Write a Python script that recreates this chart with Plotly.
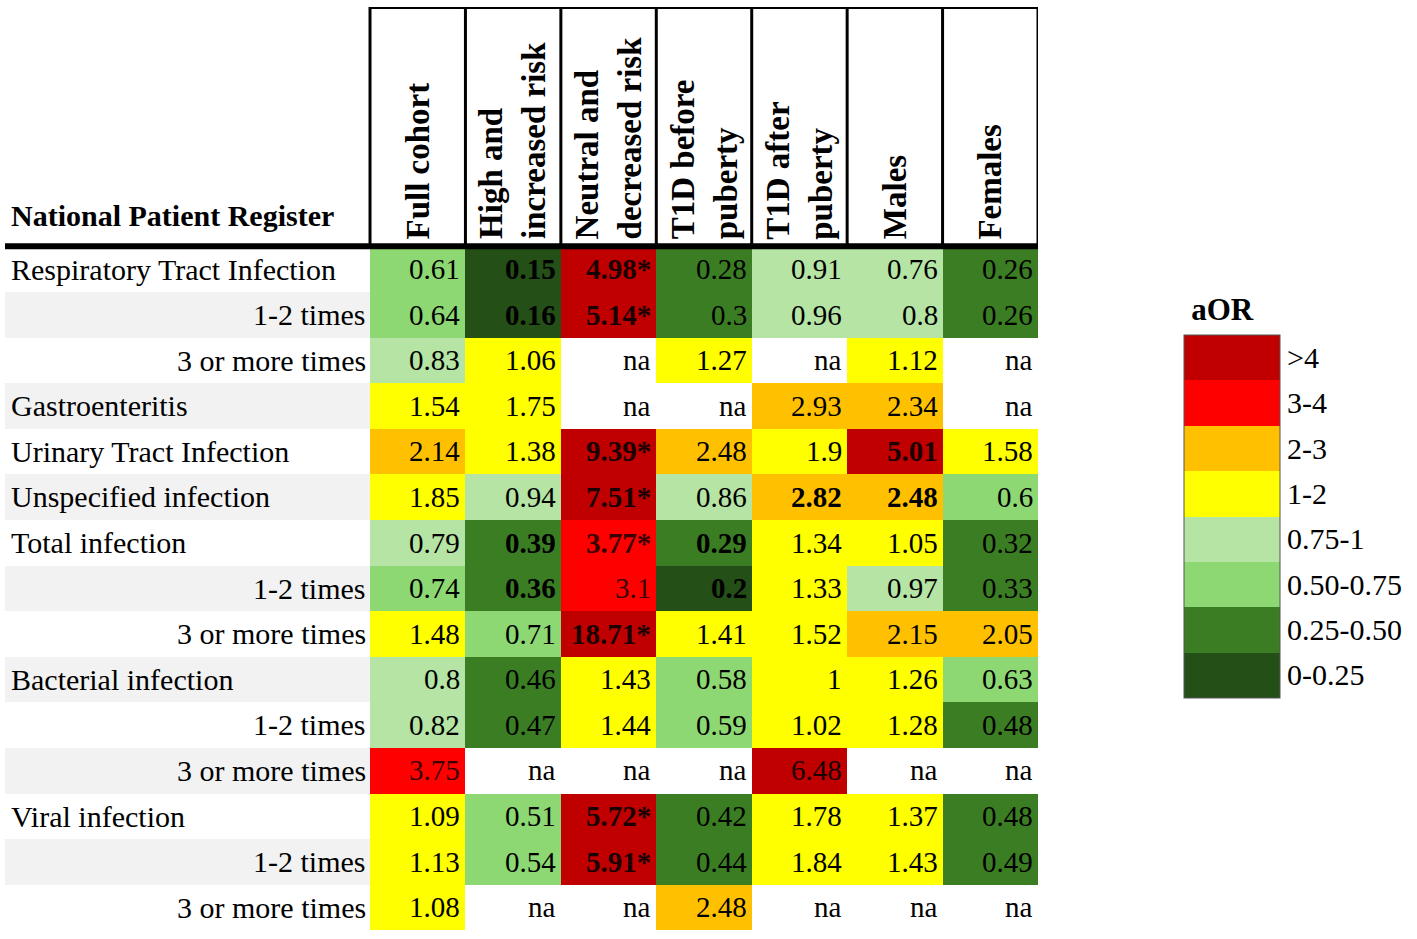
import numpy as np
import plotly.graph_objects as go

SERIF = "Liberation Serif"

columns = ["Full cohort", "High and<br>increased risk", "Neutral and<br>decreased risk",
           "T1D before<br>puberty", "T1D after<br>puberty", "Males", "Females"]
rows = ["Respiratory Tract Infection", "1-2 times", "3 or more times", "Gastroenteritis",
        "Urinary Tract Infection", "Unspecified infection", "Total infection", "1-2 times",
        "3 or more times", "Bacterial infection", "1-2 times", "3 or more times",
        "Viral infection", "1-2 times", "3 or more times"]
sub_rows = [1, 2, 7, 8, 10, 11, 13, 14]

# aOR values, None = na
values = [
    [0.61, 0.15, 4.98, 0.28, 0.91, 0.76, 0.26],
    [0.64, 0.16, 5.14, 0.3, 0.96, 0.8, 0.26],
    [0.83, 1.06, None, 1.27, None, 1.12, None],
    [1.54, 1.75, None, None, 2.93, 2.34, None],
    [2.14, 1.38, 9.39, 2.48, 1.9, 5.01, 1.58],
    [1.85, 0.94, 7.51, 0.86, 2.82, 2.48, 0.6],
    [0.79, 0.39, 3.77, 0.29, 1.34, 1.05, 0.32],
    [0.74, 0.36, 3.1, 0.2, 1.33, 0.97, 0.33],
    [1.48, 0.71, 18.71, 1.41, 1.52, 2.15, 2.05],
    [0.8, 0.46, 1.43, 0.58, 1, 1.26, 0.63],
    [0.82, 0.47, 1.44, 0.59, 1.02, 1.28, 0.48],
    [3.75, None, None, None, 6.48, None, None],
    [1.09, 0.51, 5.72, 0.42, 1.78, 1.37, 0.48],
    [1.13, 0.54, 5.91, 0.44, 1.84, 1.43, 0.49],
    [1.08, None, None, 2.48, None, None, None],
]
starred = [(0, 2), (1, 2), (4, 2), (5, 2), (6, 2), (8, 2), (12, 2), (13, 2)]
bold_cells = starred + [(0, 1), (1, 1), (6, 1), (7, 1), (6, 3), (7, 3), (5, 4), (4, 5), (5, 5)]

bin_edges = [0.25, 0.5, 0.75, 1, 2, 3, 4]
bin_labels = ["0-0.25", "0.25-0.50", "0.50-0.75", "0.75-1", "1-2", "2-3", "3-4", ">4"]
bin_colors = ["#244f17", "#3b7d23", "#8ed873", "#b5e4a4", "#ffff00", "#ffc000", "#ff0000", "#c00000"]
text_colors = ["black"] * 6 + ["#3a0000", "#1a0000"]

n_bins = len(bin_colors)
z = [[None if v is None else int(np.digitize(v, bin_edges)) for v in row] for row in values]
colorscale = []
for i, c in enumerate(bin_colors):
    colorscale += [[i / n_bins, c], [(i + 1) / n_bins, c]]

label_left = -4.325   # left edge of the label column, in column units
header_top = -5.75    # top of the header block, in row units
n_rows, n_cols = len(rows), len(columns)

fig = go.Figure()

# grey banding behind the row labels
fig.add_trace(go.Heatmap(
    x=[label_left, -0.5], y=list(range(n_rows)),
    z=[[i % 2] for i in range(n_rows)],
    colorscale=[[0, "white"], [1, "#f2f2f2"]], showscale=False, hoverinfo="skip"))

fig.add_trace(go.Heatmap(
    x=list(range(n_cols)), y=list(range(n_rows)), z=z,
    zmin=-0.5, zmax=n_bins - 0.5, colorscale=colorscale, hoverongaps=False,
    colorbar=dict(
        title=dict(text="&nbsp;<b>aOR</b>", side="top", font=dict(size=31, family=SERIF, color="black")),
        tickvals=list(range(n_bins)), ticktext=bin_labels, ticks="",
        tickfont=dict(size=30, family=SERIF, color="black"),
        thickness=96, thicknessmode="pixels", len=403, lenmode="pixels",
        x=1.1413, xanchor="left", y=0.2517, yanchor="bottom", xpad=0, ypad=0,
        outlinewidth=1, outlinecolor="#555")))

# cell values
for r, row in enumerate(values):
    for c, v in enumerate(row):
        txt = "na" if v is None else f"{v:g}"
        if (r, c) in starred:
            txt += "*"
        if (r, c) in bold_cells:
            txt = f"<b>{txt}</b>"
        color = "black" if v is None else text_colors[z[r][c]]
        fig.add_annotation(x=c + 0.5, y=r, text=txt, xanchor="right", xshift=-3,
                           showarrow=False, font=dict(size=29, family=SERIF, color=color))

# row labels
for r, name in enumerate(rows):
    if r in sub_rows:
        fig.add_annotation(x=-0.5, y=r, text=name, xanchor="right", xshift=-2, showarrow=False,
                           font=dict(size=30, family=SERIF, color="black"))
    else:
        fig.add_annotation(x=label_left, y=r, text=name, xanchor="left", xshift=4, showarrow=False,
                           font=dict(size=30, family=SERIF, color="black"))

# column headers
for c, name in enumerate(columns):
    fig.add_annotation(x=c, y=-0.5, text=f"<b>{name}</b>", textangle=-90, align="left",
                       yanchor="bottom", yshift=5, showarrow=False,
                       font=dict(size=33, family=SERIF, color="black"))
fig.add_annotation(x=label_left, y=-0.5, text="<b>National Patient Register</b>",
                   xanchor="left", xshift=4, yanchor="bottom", yshift=12, showarrow=False,
                   font=dict(size=30, family=SERIF, color="black"))

# header rules
for c in range(n_cols + 1):
    fig.add_shape(type="line", x0=c - 0.5, x1=c - 0.5, y0=header_top, y1=-0.5,
                  line=dict(color="black", width=3))
fig.add_shape(type="line", x0=-0.5, x1=n_cols - 0.5, y0=header_top, y1=header_top,
              line=dict(color="black", width=4))
fig.add_shape(type="line", x0=label_left, x1=n_cols - 0.5, y0=-0.5, y1=-0.5,
              line=dict(color="black", width=6))

fig.update_xaxes(range=[label_left, n_cols - 0.5], visible=False, fixedrange=True)
fig.update_yaxes(range=[n_rows - 0.5, header_top], visible=False, fixedrange=True)
fig.update_layout(
    width=1417, height=939,
    margin=dict(l=5, r=379, t=7, b=9),
    plot_bgcolor="white", paper_bgcolor="white",
)

# drop the page's default body margin so the figure sits at the window corner
fig.write_html("out.html", config={"displayModeBar": False},
               post_script="document.body.style.margin='0';")
